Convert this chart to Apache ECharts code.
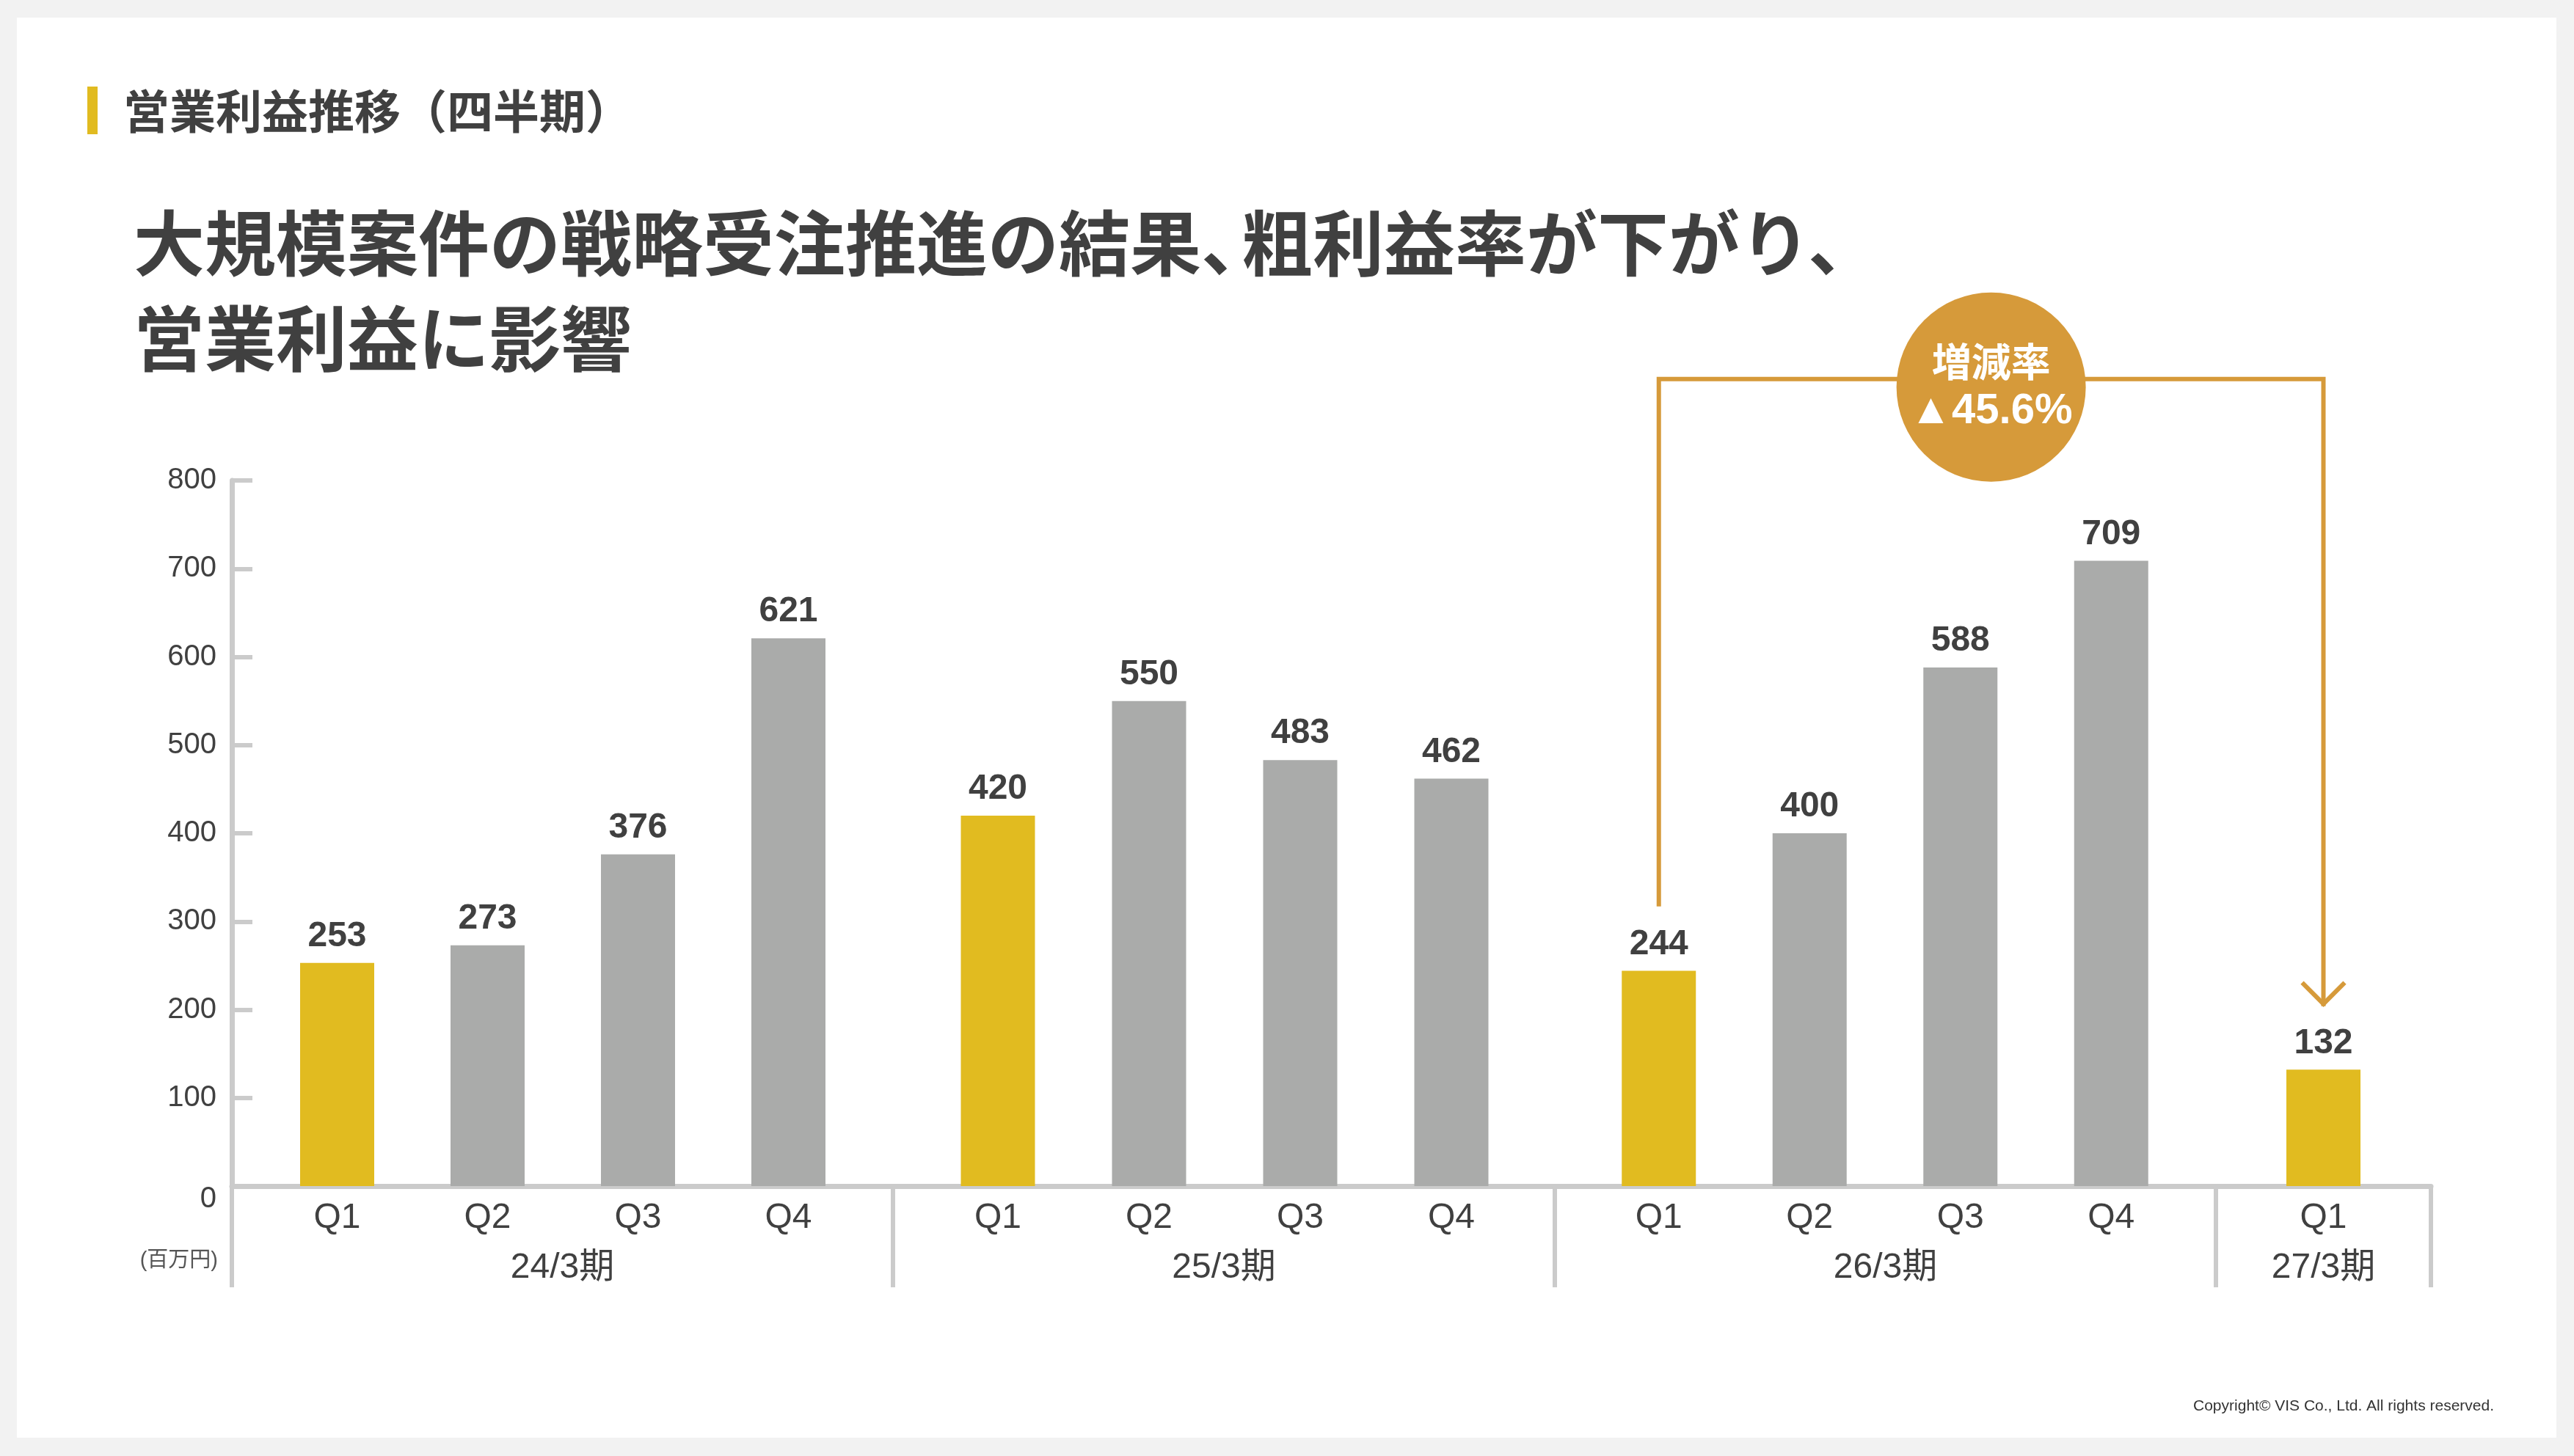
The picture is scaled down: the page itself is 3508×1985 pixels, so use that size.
<!DOCTYPE html>
<html>
<head>
<meta charset="utf-8">
<title>営業利益推移（四半期）</title>
<script src="https://cdn.jsdelivr.net/npm/echarts@6.0.0/dist/echarts.min.js"></script>
<style>
  html, body { margin: 0; padding: 0; background: #f2f2f2; }
  #main { width: 3508px; height: 1985px; }
</style>
</head>
<body>
<div id="main"></div>
<script type="text/javascript">
    // データ（百万円）
    var quarters = ['Q1', 'Q2', 'Q3', 'Q4'];
    var periods = ['24/3期', '25/3期', '26/3期', '27/3期'];
    var fy24 = [253, 273, 376, 621];
    var fy25 = [420, 550, 483, 462];
    var fy26 = [244, 400, 588, 709];
    var fy27 = [132];
    var yMin = 0, yMax = 800, yStep = 100;
    var unitLabel = '(百万円)';
    var rateTitle = '増減率';
    var rateText = '▲45.6%';
    // 矢印の高さ（軸の値で）
    var arrowFrom = 317, arrowTop = 915, arrowTo = 204;

    var GOLD = '#e1bb20';
    var GREY = '#aaabaa';
    var AXIS = '#cbcbcb';
    var TEXT = '#404040';
    var ORANGE = '#d69a3a';
    var FONT = "'Liberation Sans', 'Noto Sans CJK JP', sans-serif";
    var CJK = "'Noto Sans CJK JP', sans-serif";

    var groups = [fy24, fy25, fy26, fy27];
    var W = 3508, H = 1985;
    var gTop = 655, gBottom = H - 1617;
    // 棒のグリッド（左端・右端）
    var barGrids = [[357, 1177], [1257, 2081], [2158, 2980], [3064, 3269]];
    // 枠のグリッド（区切り線）
    var frameGrids = [[316, 1217], [1217, 2119], [2119, 3020], [3020, 3313]];

    var grid = [], xAxis = [], yAxis = [], series = [];

    barGrids.forEach(function (g, i) {
        grid.push({ left: g[0], right: W - g[1], top: gTop, bottom: gBottom });
        xAxis.push({
            type: 'category', gridIndex: i,
            data: quarters.slice(0, groups[i].length),
            axisLine: { show: false }, axisTick: { show: false },
            axisLabel: { margin: 20, fontSize: 48, color: TEXT, fontFamily: FONT }
        });
        yAxis.push({
            type: 'value', gridIndex: i, min: yMin, max: yMax, interval: yStep,
            show: false, splitLine: { show: false }
        });
        series.push({
            type: 'bar', xAxisIndex: i, yAxisIndex: i,
            barWidth: 101,
            data: groups[i].map(function (v, k) {
                return { value: v, itemStyle: { color: k === 0 ? GOLD : GREY } };
            }),
            label: {
                show: true, position: 'top', distance: 12,
                fontSize: 48, fontWeight: 'bold', color: TEXT, fontFamily: FONT
            },
            silent: true
        });
    });

    frameGrids.forEach(function (g, i) {
        var gi = barGrids.length + i;
        grid.push({ left: g[0], right: W - g[1], top: gTop, bottom: gBottom });
        xAxis.push({
            type: 'category', gridIndex: gi, data: [periods[i]],
            axisLine: { lineStyle: { color: AXIS, width: 7 } },
            axisTick: { show: true, length: 138, lineStyle: { color: AXIS, width: 6 } },
            axisLabel: { margin: 88, fontSize: 48, color: TEXT, fontFamily: FONT }
        });
        yAxis.push({
            type: 'value', gridIndex: gi, min: yMin, max: yMax, interval: yStep,
            show: i === 0,
            splitLine: { show: false },
            axisLine: { show: true, lineStyle: { color: AXIS, width: 7 } },
            axisTick: { show: true, inside: true, length: 28, lineStyle: { color: AXIS, width: 6 } },
            axisLabel: {
                margin: 21, fontSize: 40, color: TEXT, fontFamily: FONT,
                formatter: function (v) { return v === 0 ? '{z|0}' : String(v); },
                rich: { z: { fontSize: 40, color: TEXT, fontFamily: FONT, padding: [36, 0, 0, 0] } }
            }
        });
    });

    var myChart = echarts.init(document.getElementById('main'));
    myChart.setOption({
        backgroundColor: '#f2f2f2',
        animation: false,
        grid: grid,
        xAxis: xAxis,
        yAxis: yAxis,
        series: series
    });

    // 増減率の矢印（座標は軸から計算）
    var pA = myChart.convertToPixel({ gridIndex: 2 }, [0, arrowFrom]);
    var pTop = myChart.convertToPixel({ gridIndex: 2 }, [0, arrowTop]);
    var pB = myChart.convertToPixel({ gridIndex: 3 }, [0, arrowTo]);
    var x1 = pA[0], x2 = pB[0], yT = pTop[1], cx = (x1 + x2) / 2;

    function txt(text, x, y, size, weight, color, family, align) {
        return {
            type: 'text', z: 50,
            style: {
                text: text, x: x, y: y, fill: color,
                font: weight + ' ' + size + 'px ' + family,
                align: align || 'left', verticalAlign: 'middle',
                textAlign: align || 'left', textVerticalAlign: 'middle'
            }
        };
    }

    var elements = [
        { type: 'rect', z: -10, shape: { x: 23, y: 24, width: 3461, height: 1936 }, style: { fill: '#ffffff' } },
        { type: 'rect', z: 5, shape: { x: 119, y: 118, width: 14, height: 65 }, style: { fill: GOLD } },
        txt('営業利益推移（四半期）', 168, 151, 63, 'bold', TEXT, CJK),
        txt('大規模案件の戦略受注推進の結果、', 182, 331, 97, 'bold', TEXT, CJK),
        txt('粗利益率が下がり、', 1692, 331, 97, 'bold', TEXT, CJK),
        txt('営業利益に影響', 182, 461, 97, 'bold', TEXT, CJK),
        txt(unitLabel, 297, 1719, 29, 'normal', '#555555', FONT, 'right'),
        txt('Copyright© VIS Co., Ltd. All rights reserved.', 3399, 1917, 21, 'normal', '#333333', FONT, 'right'),
        {
            type: 'polyline', z: 40,
            shape: { points: [[x1, pA[1]], [x1, yT], [x2, yT], [x2, pB[1]]] },
            style: { stroke: ORANGE, lineWidth: 6, fill: null }
        },
        {
            type: 'polyline', z: 40,
            shape: { points: [[x2 - 29, pB[1] - 32], [x2, pB[1] - 3], [x2 + 29, pB[1] - 32]] },
            style: { stroke: ORANGE, lineWidth: 6, fill: null }
        },
        { type: 'circle', z: 45, shape: { cx: cx, cy: yT + 11, r: 129 }, style: { fill: ORANGE } },
        txt(rateTitle, cx, yT - 23, 54, 'bold', '#ffffff', CJK, 'center'),
        txt(rateText, cx, yT + 44, 58, 'bold', '#ffffff', FONT, 'center')
    ];

    myChart.setOption({ graphic: { elements: elements } });
</script>
</body>
</html>
